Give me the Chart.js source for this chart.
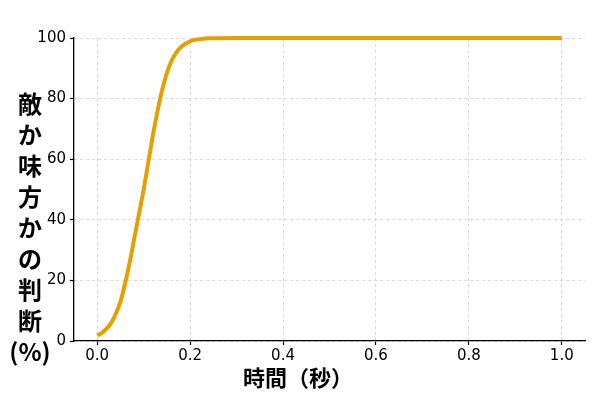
<!DOCTYPE html>
<html>
<head>
<meta charset="utf-8">
<script src="https://cdn.jsdelivr.net/npm/chart.js@4"></script>
<style>
    html, body { margin: 0; padding: 0; background: #fff; }
</style>
</head>
<body>
<canvas id="chart" width="600" height="400"></canvas>
<script>
// time (seconds) and judgement (%)
const timeSec = [0.00, 0.01, 0.02, 0.03, 0.04, 0.05, 0.06, 0.07, 0.08, 0.09,
    0.10, 0.11, 0.12, 0.13, 0.14, 0.15, 0.16, 0.17, 0.18, 0.19,
    0.20, 0.21, 0.22, 0.23, 0.24, 0.25, 0.30, 0.40, 0.50, 0.60,
    0.70, 0.80, 0.90, 1.00];
const judgePct = [1.8, 2.7, 4.1, 6.0, 9.0, 13.0, 19.0, 26.0, 34.0, 42.0,
    50.0, 59.0, 68.0, 76.0, 83.0, 88.5, 92.5, 95.2, 97.0, 98.1,
    98.9, 99.4, 99.6, 99.8, 99.9, 99.95, 100, 100, 100, 100,
    100, 100, 100, 100];
const xTicks = [0.0, 0.2, 0.4, 0.6, 0.8, 1.0];
const yTicks = [0, 20, 40, 60, 80, 100];
const yTitleChars = ['敵', 'か', '味', '方', 'か', 'の', '判', '断', '(%)'];
const xTitle = '時間（秒）';

const points = timeSec.map((t, i) => ({ x: t, y: judgePct[i] }));

// axis titles: stacked y label and x label, drawn by hand
const axisTitles = {
    id: 'axisTitles',
    afterDraw(chart) {
        const ctx = chart.ctx;
        ctx.save();
        ctx.fillStyle = '#000';
        ctx.textAlign = 'center';
        ctx.textBaseline = 'middle';
        ctx.font = 'bold 24px "Noto Sans CJK JP"';
        yTitleChars.forEach((ch, i) => {
            ctx.fillText(ch, 30, 104 + i * 31);
        });
        ctx.font = 'bold 22px "Noto Sans CJK JP"';
        ctx.fillText(xTitle, 298, 378);
        ctx.restore();
    }
};

new Chart(document.getElementById('chart'), {
    type: 'line',
    data: {
        datasets: [{
            data: points,
            borderColor: '#E69F00',
            borderWidth: 4,
            pointRadius: 0,
            cubicInterpolationMode: 'monotone',
            fill: false,
            clip: false
        }]
    },
    options: {
        responsive: false,
        animation: false,
        devicePixelRatio: 1,
        layout: { padding: { top: 38, right: 15, left: 0, bottom: 0 } },
        plugins: {
            legend: { display: false },
            tooltip: { enabled: false }
        },
        scales: {
            x: {
                type: 'linear',
                min: -0.05,
                max: 1.05,
                afterBuildTicks: (scale) => {
                    scale.ticks = xTicks.map(v => ({ value: v }));
                },
                afterFit: (scale) => { scale.height = 59; },
                ticks: {
                    color: '#000',
                    font: { family: 'DejaVu Sans', size: 15 },
                    padding: 2,
                    maxRotation: 0,
                    callback: (v) => Number(v).toFixed(1)
                },
                grid: {
                    color: '#d0d0d0',
                    lineWidth: 0.8,
                    borderDash: [3, 3],
                    tickColor: '#000',
                    tickLength: 4,
                    tickWidth: 1.2,
                    tickBorderDash: []
                },
                border: { color: '#000', width: 1.3, dash: [3, 3] }
            },
            y: {
                min: 0,
                max: 100,
                afterBuildTicks: (scale) => {
                    scale.ticks = yTicks.map(v => ({ value: v }));
                },
                afterFit: (scale) => { scale.width = 74; },
                ticks: {
                    color: '#000',
                    font: { family: 'DejaVu Sans', size: 15 },
                    padding: 4
                },
                grid: {
                    color: '#d0d0d0',
                    lineWidth: 0.8,
                    borderDash: [3, 3],
                    tickColor: '#000',
                    tickLength: 4,
                    tickWidth: 1.2,
                    tickBorderDash: []
                },
                border: { color: '#000', width: 1.3, dash: [3, 3] }
            }
        }
    },
    plugins: [axisTitles]
});
</script>
</body>
</html>
